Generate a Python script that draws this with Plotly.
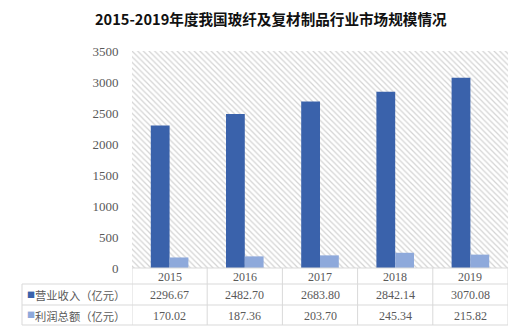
import plotly.graph_objects as go

years = ["2015", "2016", "2017", "2018", "2019"]
revenue = [2296.67, 2482.70, 2683.80, 2842.14, 3070.08]
profit = [170.02, 187.36, 203.70, 245.34, 215.82]
series_names = ["营业收入（亿元）", "利润总额（亿元）"]
y_max = 3500
y_ticks = [0, 500, 1000, 1500, 2000, 2500, 3000, 3500]

C_REV = "#3a62ab"
C_PRO = "#8ea9db"
GRID = "#d9d9d9"
TXT = "#595959"
SERIF = "Liberation Serif, Times New Roman, serif"
CJK = "Noto Sans CJK SC, sans-serif"

W, H = 521, 329
L, R, T, B = 132, 13, 51, 61
ph = H - T - B
pw = W - L - R

def py(p):  # pixel y -> paper y
    return (H - B - p) / ph

def px(p):
    return (p - L) / pw

fig = go.Figure()
# hatched plot background
fig.add_trace(go.Bar(
    x=[years[2]], y=[y_max], width=[len(years)], offset=-len(years) / 2,
    marker=dict(color="white", line=dict(width=0),
                pattern=dict(shape="\\", fgcolor="#d4d4d4", bgcolor="white",
                             size=4, solidity=0.3, fillmode="replace")),
    hoverinfo="skip", showlegend=False))
fig.add_trace(go.Bar(x=years, y=revenue, name=series_names[0], width=0.25, offset=-0.25,
                     marker=dict(color=C_REV, line=dict(width=0))))
fig.add_trace(go.Bar(x=years, y=profit, name=series_names[1], width=0.25, offset=0,
                     marker=dict(color=C_PRO, line=dict(width=0))))

shapes = []
line = dict(color=GRID, width=1)
rows_px = [268, 284, 305, 325]
shapes.append(dict(type="line", xref="paper", yref="paper", x0=0, x1=1,
                   y0=py(rows_px[0]), y1=py(rows_px[0]), line=line))
for r in rows_px[1:]:
    shapes.append(dict(type="line", xref="paper", yref="paper", x0=px(22), x1=1,
                       y0=py(r), y1=py(r), line=line))
for i in range(len(years) + 1):
    shapes.append(dict(type="line", xref="x", yref="paper", x0=i - 0.5, x1=i - 0.5,
                       y0=py(rows_px[0]), y1=py(rows_px[-1]), line=line))
shapes.append(dict(type="line", xref="paper", yref="paper", x0=px(22), x1=px(22),
                   y0=py(rows_px[1]), y1=py(rows_px[-1]), line=line))

ann = []
fnum = dict(family=SERIF, size=12, color=TXT)
for i, yr in enumerate(years):
    ann.append(dict(x=i, xref="x", y=py(276.5), yref="paper", text=yr, showarrow=False,
                    font=fnum, xanchor="center", yanchor="middle"))
    ann.append(dict(x=i, xref="x", y=py(295), yref="paper", text=f"{revenue[i]:.2f}",
                    showarrow=False, font=fnum, xanchor="center", yanchor="middle"))
    ann.append(dict(x=i, xref="x", y=py(315.5), yref="paper", text=f"{profit[i]:.2f}",
                    showarrow=False, font=fnum, xanchor="center", yanchor="middle"))
for name, col, yc in [(series_names[0], C_REV, 295), (series_names[1], C_PRO, 315.5)]:
    ann.append(dict(x=px(25), xref="paper", y=py(yc - 1), yref="paper", text="■",
                    showarrow=False, font=dict(family=CJK, size=8, color=col),
                    xanchor="left", yanchor="middle"))
    ann.append(dict(x=px(33), xref="paper", y=py(yc), yref="paper", text=name,
                    showarrow=False, font=dict(family=CJK, size=11.3, color=TXT),
                    xanchor="left", yanchor="middle"))
ann.append(dict(x=px(271), xref="paper", y=py(19), yref="paper",
                text="<b>2015-2019年度我国玻纤及复材制品行业市场规模情况</b>",
                showarrow=False, font=dict(family=CJK, size=14.6, color="#111111"),
                xanchor="center", yanchor="middle"))

fig.update_layout(
    width=W, height=H, margin=dict(l=L, r=R, t=T, b=B),
    paper_bgcolor="white", plot_bgcolor="white",
    barmode="overlay", showlegend=False,
    xaxis=dict(type="category", categoryorder="array", categoryarray=years,
               range=[-0.5, len(years) - 0.5], showticklabels=False,
               showgrid=False, zeroline=False, showline=False, ticks="", fixedrange=True),
    yaxis=dict(range=[0, y_max], tickvals=y_ticks, showgrid=False, zeroline=False,
               showline=False, ticks="outside", ticklen=10, tickcolor="rgba(0,0,0,0)",
               tickfont=dict(family=SERIF, size=13, color=TXT)),
    shapes=shapes, annotations=ann,
)
fig.write_html("out.html")
